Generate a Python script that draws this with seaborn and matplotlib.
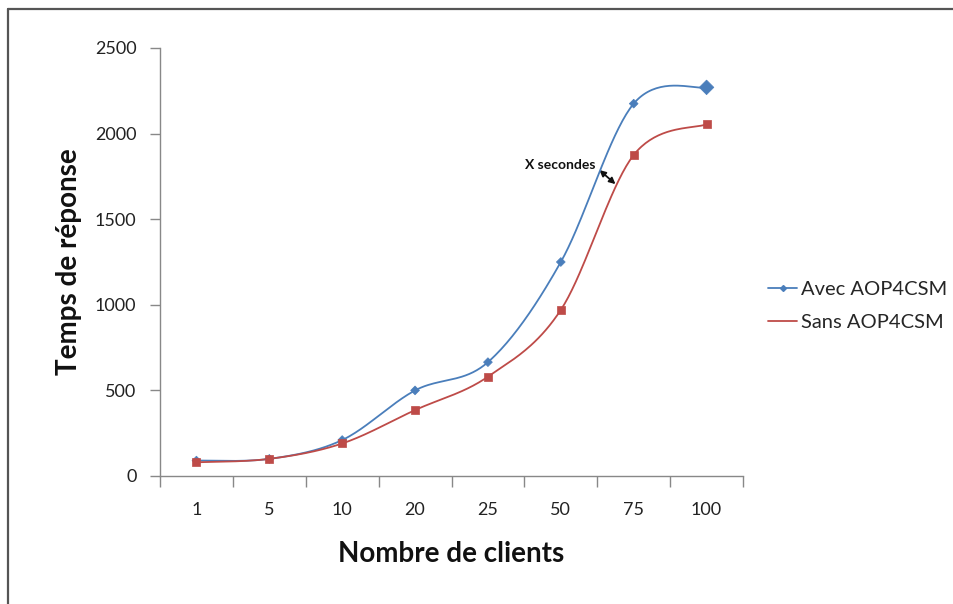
import numpy as np
import pandas as pd
import matplotlib
matplotlib.use("Agg")
import matplotlib.pyplot as plt
from matplotlib.lines import Line2D
from matplotlib.patches import FancyArrowPatch
import seaborn as sns

# Response time (ms) per number of clients, with and without AOP4CSM
clients = ["1", "5", "10", "20", "25", "50", "75", "100"]
avec = [90, 100, 210, 500, 665, 1250, 2175, 2270]
sans = [80, 100, 190, 385, 580, 970, 1875, 2055]

BLUE = "#4a7ebb"
RED = "#be4b48"


def smooth(xs, ys, n=40):
    """Bezier smoothing through every point (Catmull-Rom control points)."""
    p = np.column_stack([xs, ys]).astype(float)
    ext = np.vstack([p[0], p, p[-1]])
    out = []
    for i in range(len(p) - 1):
        p0, p1, p2, p3 = ext[i], ext[i + 1], ext[i + 2], ext[i + 3]
        c1 = p1 + (p2 - p0) / 6.0
        c2 = p2 - (p3 - p1) / 6.0
        t = np.linspace(0, 1, n)[:, None]
        seg = ((1 - t) ** 3) * p1 + 3 * ((1 - t) ** 2) * t * c1 + 3 * (1 - t) * t ** 2 * c2 + t ** 3 * p2
        out.append(seg if i == 0 else seg[1:])
    seg = np.vstack(out)
    return seg[:, 0], seg[:, 1]


sns.set_theme(style="white")
plt.rcParams["font.family"] = ["Lato", "DejaVu Sans"]

fig = plt.figure(figsize=(9.54, 6.04), dpi=100)
ax = fig.add_axes([160 / 954, 1 - 476 / 604, 583 / 954, 428 / 604])

xpos = np.arange(len(clients))
df = pd.DataFrame({"x": np.concatenate([xpos, xpos]),
                   "temps": avec + sans,
                   "serie": ["Avec AOP4CSM"] * len(xpos) + ["Sans AOP4CSM"] * len(xpos)})

# smoothed curves
for name, vals, col in [("Avec AOP4CSM", avec, BLUE), ("Sans AOP4CSM", sans, RED)]:
    sx, sy = smooth(xpos, vals)
    sns.lineplot(x=sx, y=sy, ax=ax, color=col, linewidth=1.3, sort=False, legend=False)

# markers at the measured values
d_avec = df[df.serie == "Avec AOP4CSM"]
d_sans = df[df.serie == "Sans AOP4CSM"]
sizes = [20] * (len(xpos) - 1) + [55]
sns.scatterplot(data=d_avec, x="x", y="temps", ax=ax, marker="D", color=BLUE,
                s=sizes, edgecolor=BLUE, linewidth=0.5, legend=False, zorder=3)
sns.scatterplot(data=d_sans, x="x", y="temps", ax=ax, marker="s", color=RED,
                s=36, edgecolor=RED, linewidth=0.5, legend=False, zorder=3)

ax.set_xlim(-0.5, len(clients) - 0.5)
ax.set_ylim(0, 2500)
ax.set_yticks([0, 500, 1000, 1500, 2000, 2500])
ax.set_yticklabels(["0", "500", "1000", "1500", "2000", "2500"], fontsize=13, color="#222222")

# category ticks between labels, labels centred on categories
ax.set_xticks(np.arange(-0.5, len(clients), 1.0))
ax.set_xticklabels([])
ax.set_xticks(xpos, minor=True)
ax.set_xticklabels(clients, minor=True, fontsize=13, color="#222222")
ax.tick_params(axis="x", which="major", direction="out", length=8, width=1, color="#888888", bottom=True)
ax.tick_params(axis="x", which="minor", length=0, pad=19)
ax.tick_params(axis="y", direction="out", length=7, width=1, color="#888888", left=True, pad=10)

for s in ["top", "right"]:
    ax.spines[s].set_visible(False)
for s in ["left", "bottom"]:
    ax.spines[s].set_color("#888888")
    ax.spines[s].set_linewidth(1)

ax.set_xlabel("Nombre de clients", fontsize=20, fontweight="bold", labelpad=16, color="#111111")
ax.set_ylabel("Temps de réponse", fontsize=20, fontweight="bold", labelpad=9, color="#111111")

# gap annotation between the two curves
ax.text(5.47, 1817, "X secondes", fontsize=10, fontweight="bold", ha="right", va="center", color="#111111")
arr = FancyArrowPatch((5.53, 1787), (5.75, 1705), arrowstyle="<|-|>", mutation_scale=9,
                      color="#111111", linewidth=1.3, shrinkA=0, shrinkB=0)
ax.add_patch(arr)

# legend
handles = [Line2D([], [], color=BLUE, marker="D", markersize=3, linewidth=1.3),
           Line2D([], [], color=RED, linewidth=1.3)]
fig.legend(handles, ["Avec AOP4CSM", "Sans AOP4CSM"], loc="center left",
           bbox_to_anchor=(768 / 954, 1 - 306 / 604), frameon=False, fontsize=14.5,
           handlelength=1.45, handletextpad=0.2, labelspacing=0.75, borderaxespad=0,
           borderpad=0)

# chart area border (top and left edges)
fig.add_artist(Line2D([8 / 954, 8 / 954], [0, 1 - 9 / 604], transform=fig.transFigure,
                      color="#555555", linewidth=1.6))
fig.add_artist(Line2D([8 / 954, 1], [1 - 9 / 604, 1 - 9 / 604], transform=fig.transFigure,
                      color="#555555", linewidth=1.6))

fig.savefig("out.png", dpi=100)
